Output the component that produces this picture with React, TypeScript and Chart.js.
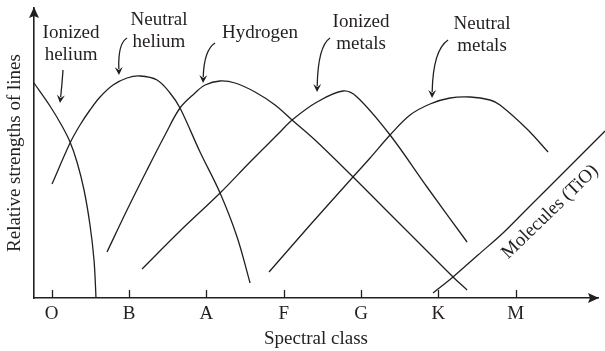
import React, { useEffect, useRef } from "react";
import { Chart, registerables } from "chart.js";

Chart.register(...registerables);

// ---- axis categories ----
const spectralClasses = ["O", "B", "A", "F", "G", "K", "M"];
const classPositions = [0, 1, 2, 3, 4, 5, 6];
const xMin = -0.229;
const xMax = 7.064;
const yMin = 0;
const yMax = 290;

// ---- series (x = spectral class position, y = relative line strength) ----
const ionizedHeliumX = [-0.229, -0.022, 0.133, 0.237, 0.327, 0.418, 0.495, 0.547, 0.573];
const ionizedHeliumY = [215, 192, 172, 156, 136, 108, 73, 38, 0];

const neutralHeliumX = [0.004, 0.237, 0.366, 0.495, 0.625, 0.793, 0.974, 1.142, 1.362, 1.53, 1.659, 1.918, 2.177, 2.397, 2.565];
const neutralHeliumY = [114, 155, 173, 188, 201, 213, 220, 222, 218, 205, 190, 146, 105, 61, 15];

const hydrogenX = [0.715, 0.974, 1.232, 1.465, 1.659, 1.853, 1.983, 2.176, 2.37, 2.629, 2.888, 3.108, 3.405, 3.884, 4.284, 4.724, 5.19, 5.371];
const hydrogenY = [46, 88, 128, 163, 190, 205, 213, 217, 215, 206, 193, 178, 158, 122, 91, 57, 21, 8];

const ionizedMetalsX = [1.168, 1.659, 2.177, 2.565, 2.953, 3.108, 3.431, 3.767, 3.948, 4.375, 4.853, 5.371];
const ionizedMetalsY = [29, 67, 105, 136, 166, 178, 196, 207, 201, 163, 111, 56];

const neutralMetalsX = [2.81, 3.341, 3.884, 4.117, 4.375, 4.634, 4.892, 5.151, 5.41, 5.668, 5.797, 6.146, 6.418];
const neutralMetalsY = [26, 73, 120, 140, 163, 183, 194, 200, 201, 198, 193, 169, 146];

const moleculesX = [4.931, 5.189, 5.512, 5.836, 6.159, 6.483, 6.832, 7.155];
const moleculesY = [5, 21, 43, 65, 90, 115, 142, 167];

// ---- annotation text ----
const curveLabels = [
  { lines: ["Ionized", "helium"], x: 0.25, y: 260, arrow: [[0.146, 228], [0.133, 213], [0.107, 195]] },
  { lines: ["Neutral", "helium"], x: 1.387, y: 273, arrow: [[0.974, 260], [0.857, 255], [0.87, 223]] },
  { lines: ["Hydrogen"], x: 2.694, y: 260, arrow: [[2.112, 255], [1.97, 248], [1.957, 215]] },
  { lines: ["Ionized", "metals"], x: 4.0, y: 271, arrow: [[3.599, 260], [3.444, 252], [3.431, 206]] },
  { lines: ["Neutral", "metals"], x: 5.564, y: 269, arrow: [[5.125, 258], [4.931, 248], [4.918, 200]] },
];
const moleculesLabel = { text: "Molecules (TiO)", x: 6.444, y: 86, angleDeg: -44 };

const fontFamily = '"Liberation Serif", "Times New Roman", serif';
const ink = "#231f20";
const fontSize = 19;

export default function App() {
  const ref = useRef<HTMLCanvasElement>(null);

  useEffect(() => {
    const canvas = ref.current;
    if (!canvas) return;

    const pts = (xs: number[], ys: number[]) => xs.map((x, i) => ({ x, y: ys[i] }));
    const series = (label: string, xs: number[], ys: number[]) => ({
      label,
      data: pts(xs, ys),
      borderColor: ink,
      backgroundColor: ink,
      borderWidth: 1.3,
      pointRadius: 0,
      fill: false,
      tension: 0.35,
      clip: false as any,
    });

    const annotPlugin = {
      id: "annotations",
      afterDraw(chart: any) {
        const { ctx, chartArea } = chart;
        const xs = chart.scales.x;
        const ys = chart.scales.y;
        ctx.save();
        ctx.strokeStyle = ink;
        ctx.fillStyle = ink;

        // inward tick marks
        ctx.lineWidth = 1.3;
        classPositions.forEach((v) => {
          const px = Math.round(xs.getPixelForValue(v)) + 0.5;
          ctx.beginPath();
          ctx.moveTo(px, chartArea.bottom);
          ctx.lineTo(px, chartArea.bottom - 8);
          ctx.stroke();
        });

        // axis arrowheads
        const ax = chartArea.left;
        const ay = chartArea.bottom;
        ctx.beginPath();
        ctx.moveTo(ax, chartArea.top - 1);
        ctx.lineTo(ax - 5, chartArea.top + 10);
        ctx.lineTo(ax, chartArea.top + 8);
        ctx.lineTo(ax + 5, chartArea.top + 10);
        ctx.closePath();
        ctx.fill();
        ctx.beginPath();
        ctx.moveTo(chartArea.right + 1, ay);
        ctx.lineTo(chartArea.right - 10, ay - 5);
        ctx.lineTo(chartArea.right - 8, ay);
        ctx.lineTo(chartArea.right - 10, ay + 5);
        ctx.closePath();
        ctx.fill();

        // curve labels with arrows
        ctx.font = `${fontSize}px ${fontFamily}`;
        ctx.textAlign = "center";
        ctx.textBaseline = "alphabetic";
        curveLabels.forEach((lab) => {
          const cx = xs.getPixelForValue(lab.x);
          const cy = ys.getPixelForValue(lab.y);
          lab.lines.forEach((t, i) => ctx.fillText(t, cx, cy + i * 22));
          const [s, c, e] = lab.arrow.map(([vx, vy]) => [xs.getPixelForValue(vx), ys.getPixelForValue(vy)]);
          const dx = e[0] - c[0];
          const dy = e[1] - c[1];
          const len = Math.hypot(dx, dy);
          const ux = dx / len;
          const uy = dy / len;
          const headLen = 8;
          const half = 4;
          ctx.lineWidth = 1.3;
          ctx.beginPath();
          ctx.moveTo(s[0], s[1]);
          ctx.quadraticCurveTo(c[0], c[1], e[0] - ux * (headLen - 2), e[1] - uy * (headLen - 2));
          ctx.stroke();
          ctx.beginPath();
          ctx.moveTo(e[0], e[1]);
          ctx.lineTo(e[0] - ux * headLen - uy * half, e[1] - uy * headLen + ux * half);
          ctx.lineTo(e[0] - ux * (headLen - 3), e[1] - uy * (headLen - 3));
          ctx.lineTo(e[0] - ux * headLen + uy * half, e[1] - uy * headLen - ux * half);
          ctx.closePath();
          ctx.fill();
        });

        // rotated molecules label
        const mx = xs.getPixelForValue(moleculesLabel.x);
        const my = ys.getPixelForValue(moleculesLabel.y);
        ctx.translate(mx, my);
        ctx.rotate((moleculesLabel.angleDeg * Math.PI) / 180);
        ctx.textBaseline = "middle";
        ctx.fillText(moleculesLabel.text, 0, 0);
        ctx.restore();
      },
    };

    const chart = new Chart(canvas, {
      type: "line",
      data: {
        datasets: [
          series("Ionized helium", ionizedHeliumX, ionizedHeliumY),
          series("Neutral helium", neutralHeliumX, neutralHeliumY),
          series("Hydrogen", hydrogenX, hydrogenY),
          series("Ionized metals", ionizedMetalsX, ionizedMetalsY),
          series("Neutral metals", neutralMetalsX, neutralMetalsY),
          series("Molecules (TiO)", moleculesX, moleculesY),
        ] as any,
      },
      options: {
        responsive: false,
        animation: false,
        devicePixelRatio: 1,
        layout: { padding: { left: 0, right: 7, top: 8, bottom: 0 } },
        elements: { line: { capBezierPoints: false } },
        plugins: { legend: { display: false }, tooltip: { enabled: false } },
        scales: {
          x: {
            type: "linear",
            min: xMin,
            max: xMax,
            afterBuildTicks: (s: any) => {
              s.ticks = classPositions.map((v) => ({ value: v }));
            },
            afterFit: (s: any) => {
              s.height = 53;
            },
            ticks: {
              autoSkip: false,
              maxRotation: 0,
              padding: 5,
              color: ink,
              font: { family: fontFamily, size: fontSize, lineHeight: 1.2 },
              callback: (_v: any, i: number) => spectralClasses[i],
            },
            grid: { display: false, drawTicks: false },
            border: { display: true, color: ink, width: 1.6 },
            title: {
              display: true,
              text: "Spectral class",
              color: ink,
              font: { family: fontFamily, size: fontSize, lineHeight: 1.2 },
              padding: { top: 0, bottom: 1 },
            },
          },
          y: {
            type: "linear",
            min: yMin,
            max: yMax,
            afterFit: (s: any) => {
              s.width = 34;
            },
            ticks: { display: false },
            grid: { display: false, drawTicks: false },
            border: { display: true, color: ink, width: 1.6 },
            title: {
              display: true,
              text: "Relative strengths of lines",
              color: ink,
              font: { family: fontFamily, size: fontSize, lineHeight: 1.2 },
              padding: { top: 3.9, bottom: 0 },
            },
          },
        },
      } as any,
      plugins: [annotPlugin],
    });

    return () => chart.destroy();
  }, []);

  return (
    <div style={{ position: "fixed", left: 0, top: 0, width: 605, height: 351, background: "#fff" }}>
      <canvas ref={ref} width={605} height={351} style={{ display: "block" }} />
    </div>
  );
}
